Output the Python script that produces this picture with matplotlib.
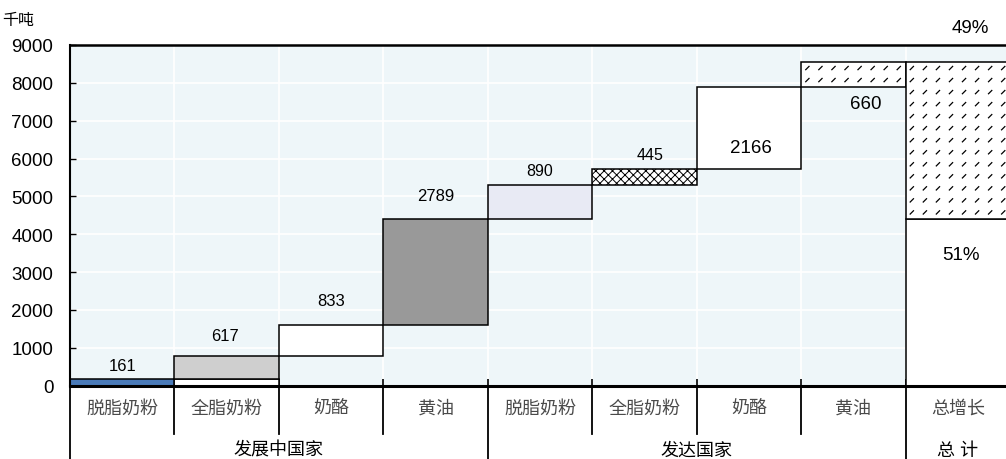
import matplotlib
matplotlib.use('Agg')
import matplotlib.pyplot as plt
import numpy as np
from matplotlib.path import Path

plt.rcParams['font.family'] = ['Liberation Sans', 'Noto Sans CJK SC', 'DejaVu Sans']
plt.rcParams['hatch.linewidth'] = 0.7

# ---- data -------------------------------------------------------------
categories = ['脱脂奶粉', '全脂奶粉', '奶酪', '黄油',
              '脱脂奶粉', '全脂奶粉', '奶酪', '黄油', '总增长']
groups = ['发展中国家', '发达国家', '总 计']
group_sizes = [4, 4, 1]
increments = [161, 617, 833, 2789, 890, 445, 2166, 660]
y_ticks = [0, 1000, 2000, 3000, 4000, 5000, 6000, 7000, 8000, 9000]
unit_label = '千吨'

# ---- styling ------------------------------------------------------------
face_colors = ['#4a7ab8', '#cfcfcf', 'white', '#999999',
               '#e8eaf4', 'white', 'white', 'white']
hatches = [None, None, None, None, None, 'xxxx', None, 'dash']
label_y = [530, 1310, 2235, 5035, 5670, 6105, 6290, 7465]
label_dx = [0, -0.02, 0, 0, 0, 0.05, 0.02, 0.12]
label_size = [12, 12, 12, 12, 11.5, 11.5, 13.5, 13.5]
bg = '#eef6f9'

n_dev = group_sizes[0]
inc = np.array(increments)
bottoms = np.concatenate([[0], np.cumsum(inc)[:-1]])
total = inc.sum()
dev_total = inc[:n_dev].sum()
other_total = total - dev_total

fig = plt.figure(figsize=(10.06, 4.6), dpi=100)
ax = fig.add_axes([70 / 1006, 73.5 / 460, 940 / 1006, 340.5 / 460])
ax.set_facecolor(bg)
ax.set_xlim(-0.5, 8.5)
ax.set_ylim(0, 9000)

edge_kw = dict(edgecolor='black', linewidth=1.1, width=1.0, zorder=2)


def dash_texture(patch, x0, x1, y0, y1):
    xs = np.arange(x0 + 0.06, x1, 0.125)
    ys = np.arange(y1 - 170, y0, -318)
    gx, gy = np.meshgrid(xs, ys)
    coll = ax.scatter(gx.ravel(), gy.ravel(), marker=Path([(-1, -1), (1, 1)]),
                      s=9, facecolors='none', edgecolors='black',
                      linewidths=0.9, zorder=3)
    coll.set_clip_path(patch)


# base of the second bar is outlined in the developing-country block
ax.bar(1, bottoms[1], bottom=0, color='white', **edge_kw)

for i, (b, v) in enumerate(zip(bottoms, inc)):
    h = hatches[i]
    bar = ax.bar(i, v, bottom=b, color=face_colors[i],
                 hatch=h if h not in (None, 'dash') else None, **edge_kw)[0]
    if h == 'dash':
        dash_texture(bar, i - 0.5, i + 0.5, b, b + v)
    ax.text(i + label_dx[i], label_y[i], f'{v}', ha='center', va='center',
            fontsize=label_size[i], zorder=5)

# total column split by region
xt = len(increments)
ax.bar(xt, dev_total, bottom=0, color='white', **edge_kw)
top_bar = ax.bar(xt, other_total, bottom=dev_total, color='white', **edge_kw)[0]
dash_texture(top_bar, xt - 0.5, xt + 0.5, dev_total, total)
ax.text(xt + 0.03, 3460, f'{round(dev_total / total * 100)}%', ha='center',
        va='center', fontsize=13.5, zorder=5)
ax.text(xt + 0.12, 9470, f'{round(other_total / total * 100)}%', ha='center',
        va='center', fontsize=13.5, zorder=5)

# axes, grid and ticks
ax.set_yticks(y_ticks)
ax.set_yticklabels([str(t) for t in y_ticks], fontsize=13.5)
bounds = np.arange(0.5, 8.5, 1.0)
ax.set_xticks(bounds)
ax.set_xticklabels([])
ax.tick_params(axis='y', direction='in', length=4, width=1, pad=12)
ax.tick_params(axis='x', direction='in', length=5, width=1.2)
ax.set_axisbelow(True)
ax.grid(True, color='white', linewidth=1.2)
for side in ['left', 'top', 'bottom', 'right']:
    ax.spines[side].set_color('black')
ax.spines['left'].set_linewidth(1.5)
ax.spines['top'].set_linewidth(1.8)
ax.spines['bottom'].set_linewidth(2.2)
ax.spines['bottom'].set_zorder(4)

# two-level category axis below the plot
xtr = ax.get_xaxis_transform()
for i, name in enumerate(categories):
    ax.text(i, -0.066, name, transform=xtr, ha='center', va='center',
            fontsize=13, color='#4a4a4a')

group_edges = np.concatenate([[0], np.cumsum(group_sizes)]) - 0.5
for b in bounds:
    if b not in group_edges:
        ax.plot([b, b], [0, -0.143], transform=xtr, color='black',
                linewidth=1.3, clip_on=False)
for g in group_edges:
    ax.plot([g, g], [0, -0.3], transform=xtr, color='black',
            linewidth=1.3, clip_on=False)
for gname, g0, g1 in zip(groups, group_edges[:-1], group_edges[1:]):
    ax.text((g0 + g1) / 2, -0.19, gname, transform=xtr, ha='center',
            va='center', fontsize=13, color='black')

fig.text(18 / 1006, 1 - 21 / 460, unit_label, ha='center', va='center',
         fontsize=11.5)

fig.savefig('out.png', dpi=100)
